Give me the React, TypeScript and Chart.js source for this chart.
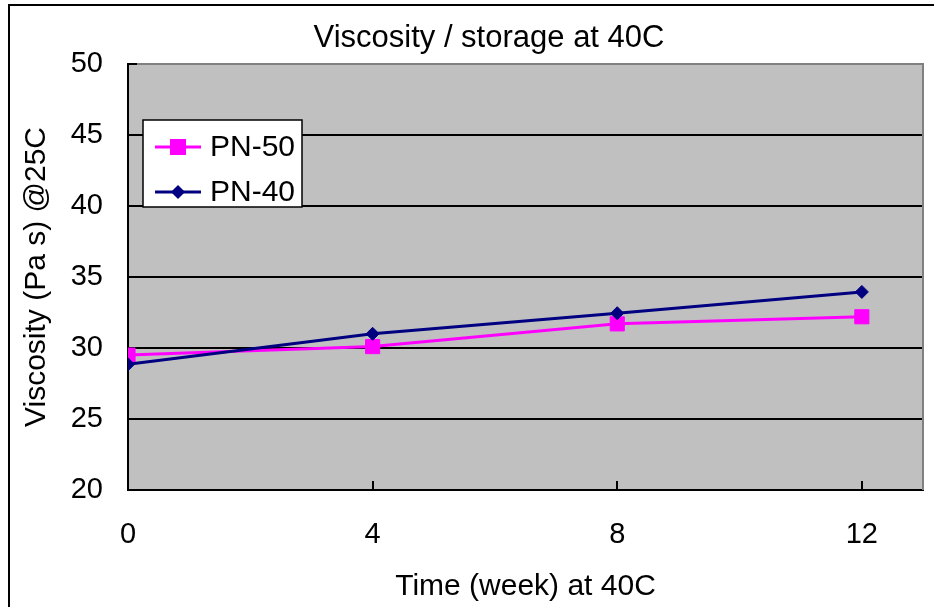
import React, { useEffect, useRef } from "react";
import { Chart, registerables } from "chart.js";

Chart.register(...registerables);

// ---- data ----
const weeks = [0, 4, 8, 12];
const pn50 = [29.5, 30.1, 31.7, 32.2];
const pn40 = [28.85, 31.0, 32.45, 33.95];
const seriesNames = ["PN-50", "PN-40"];
const xTicks = [0, 4, 8, 12];
const yTicks = [20, 25, 30, 35, 40, 45, 50];
const chartTitle = "Viscosity / storage at 40C";
const xTitle = "Time (week) at 40C";
const yTitle = "Viscosity (Pa s) @25C";

const FONT = "'Liberation Sans', Arial, Helvetica, sans-serif";
const MAGENTA = "#FF00FF";
const NAVY = "#000080";

const decorPlugin = {
  id: "decor",
  beforeDraw(chart: any) {
    const { ctx, chartArea: a, width, height } = chart;
    ctx.save();
    ctx.fillStyle = "#ffffff";
    ctx.fillRect(0, 0, width, height);
    ctx.fillStyle = "#C0C0C0";
    ctx.fillRect(a.left, a.top, a.right - a.left, a.bottom - a.top);
    // outer frame
    ctx.strokeStyle = "#000";
    ctx.lineWidth = 2;
    ctx.beginPath();
    ctx.moveTo(9, height + 5);
    ctx.lineTo(9, 5);
    ctx.lineTo(width + 5, 5);
    ctx.stroke();
    // chart title
    ctx.fillStyle = "#000";
    ctx.font = `31px ${FONT}`;
    ctx.textAlign = "center";
    ctx.textBaseline = "middle";
    ctx.fillText(chartTitle, 489, 38);
    ctx.restore();
  },
  beforeDatasetsDraw(chart: any) {
    const { ctx, chartArea: a, scales } = chart;
    ctx.save();
    // gray top/right plot border
    ctx.strokeStyle = "#808080";
    ctx.lineWidth = 2;
    ctx.beginPath();
    ctx.moveTo(a.left, a.top);
    ctx.lineTo(a.right, a.top);
    ctx.lineTo(a.right, a.bottom);
    ctx.stroke();
    // inward tick marks
    ctx.strokeStyle = "#000";
    ctx.lineWidth = 2;
    ctx.beginPath();
    for (const v of yTicks) {
      const y = Math.round(scales.y.getPixelForValue(v));
      ctx.moveTo(a.left, y);
      ctx.lineTo(a.left + 9, y);
    }
    for (const v of xTicks) {
      const x = Math.round(scales.x.getPixelForValue(v));
      ctx.moveTo(x, a.bottom);
      ctx.lineTo(x, a.bottom - 9);
    }
    ctx.stroke();
    ctx.restore();
  },
  afterDraw(chart: any) {
    const { ctx } = chart;
    ctx.save();
    // legend box
    const bx = 143, by = 120, bw = 159, bh = 87;
    ctx.fillStyle = "#fff";
    ctx.fillRect(bx, by, bw, bh);
    ctx.strokeStyle = "#000";
    ctx.lineWidth = 1.5;
    ctx.strokeRect(bx, by, bw, bh);
    const rows = [147, 192];
    chart.data.datasets.forEach((ds: any, i: number) => {
      const y = rows[i];
      ctx.strokeStyle = ds.borderColor;
      ctx.lineWidth = 3;
      ctx.beginPath();
      ctx.moveTo(155, y);
      ctx.lineTo(201, y);
      ctx.stroke();
      ctx.fillStyle = ds.pointBackgroundColor;
      ctx.beginPath();
      if (ds.pointStyle === "rect") {
        ctx.rect(178 - 8, y - 8, 16, 16);
      } else {
        ctx.moveTo(178, y - 7);
        ctx.lineTo(185, y);
        ctx.lineTo(178, y + 7);
        ctx.lineTo(171, y);
        ctx.closePath();
      }
      ctx.fill();
      ctx.fillStyle = "#000";
      ctx.font = `30px ${FONT}`;
      ctx.textBaseline = "middle";
      ctx.textAlign = "left";
      ctx.fillText(ds.label, 210, y + 1);
    });
    ctx.restore();
  },
};

export default function App() {
  const ref = useRef<HTMLCanvasElement>(null);
  useEffect(() => {
    if (!ref.current) return;
    Chart.defaults.font.family = FONT;
    Chart.defaults.color = "#000";
    const chart = new Chart(ref.current, {
      type: "line",
      data: {
        datasets: [
          {
            label: seriesNames[0],
            data: weeks.map((w, i) => ({ x: w, y: pn50[i] })),
            borderColor: MAGENTA,
            backgroundColor: MAGENTA,
            pointBackgroundColor: MAGENTA,
            pointBorderColor: MAGENTA,
            pointStyle: "rect",
            pointRadius: 10,
            pointBorderWidth: 1,
            borderWidth: 3,
            tension: 0,
            order: 1,
          } as any,
          {
            label: seriesNames[1],
            data: weeks.map((w, i) => ({ x: w, y: pn40[i] })),
            borderColor: NAVY,
            backgroundColor: NAVY,
            pointBackgroundColor: NAVY,
            pointBorderColor: NAVY,
            pointStyle: "rectRot",
            pointRadius: 6.5,
            pointBorderWidth: 1,
            borderWidth: 3,
            tension: 0,
            order: 0,
          } as any,
        ],
      },
      options: {
        animation: false,
        responsive: false,
        maintainAspectRatio: false,
        layout: { padding: { left: 0, right: 11, top: 64, bottom: 0 } },
        plugins: {
          legend: { display: false },
          tooltip: { enabled: false },
          title: { display: false },
        },
        scales: {
          x: {
            type: "linear",
            min: 0,
            max: 13,
            afterBuildTicks: (s: any) => {
              s.ticks = xTicks.map((v) => ({ value: v }));
            },
            afterFit: (s: any) => {
              s.height = 117;
            },
            grid: { display: false, drawTicks: false },
            border: { display: true, color: "#000", width: 2 },
            ticks: {
              color: "#000",
              padding: 28,
              font: { size: 29, family: FONT },
              maxRotation: 0,
            },
            title: {
              display: true,
              text: xTitle,
              color: "#000",
              font: { size: 30, family: FONT, lineHeight: 1.2 },
              padding: { top: 0, bottom: 2 },
            },
          },
          y: {
            type: "linear",
            min: 20,
            max: 50,
            afterBuildTicks: (s: any) => {
              s.ticks = yTicks.map((v) => ({ value: v }));
            },
            afterFit: (s: any) => {
              s.width = 128;
            },
            grid: {
              drawTicks: false,
              lineWidth: 2,
              color: (c: any) =>
                c.tick && (c.tick.value === 50 || c.tick.value === 20)
                  ? "rgba(0,0,0,0)"
                  : "#000",
            },
            border: { display: true, color: "#000", width: 2 },
            ticks: {
              color: "#000",
              padding: 25,
              font: { size: 29, family: FONT },
            },
            title: {
              display: true,
              text: yTitle,
              color: "#000",
              font: { size: 30, family: FONT, lineHeight: 1.2 },
              padding: { top: 19, bottom: 0 },
            },
          },
        },
      },
      plugins: [decorPlugin],
    });
    return () => chart.destroy();
  }, []);
  return (
    <canvas
      ref={ref}
      width={934}
      height={607}
      style={{ position: "fixed", left: 0, top: 0, width: 934, height: 607, display: "block" }}
    />
  );
}
